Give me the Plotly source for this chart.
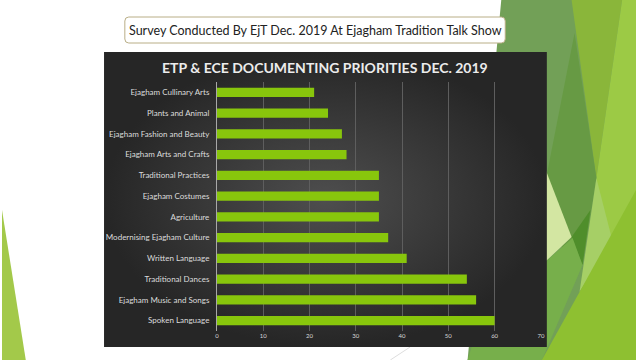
import plotly.graph_objects as go

# ---- data (top to bottom as shown) ----
categories = [
    "Ejagham Cullinary Arts",
    "Plants and Animal",
    "Ejagham Fashion and Beauty",
    "Ejagham Arts and Crafts",
    "Traditional Practices",
    "Ejagham Costumes",
    "Agriculture",
    "Modernising Ejagham Culture",
    "Written Language",
    "Traditional Dances",
    "Ejagham Music and Songs",
    "Spoken Language",
]
values = [21, 24, 27, 28, 35, 35, 35, 37, 41, 54, 56, 60]
x_ticks = [0, 10, 20, 30, 40, 50, 60, 70]

W, H = 640, 360
fig = go.Figure()

# ---- decorative background (pixel coordinates on a hidden full-page axis) ----
polys = [
    ("#72A057", [(504, 0), (640, 0), (640, 360), (470, 360)]),
    ("#8AB63A", [(575, 0), (626, 0), (600, 178)]),
    ("#9CCA45", [(626, 0), (640, 0), (640, 360), (595, 262), (600, 178)]),
    ("#679A44", [(578, 33), (600, 178), (586, 265), (540, 225)]),
    ("#A6CF66", [(600, 178), (616, 240), (583, 292)]),
    ("#D3E6A2", [(545, 160), (575, 237), (545, 265)]),
    ("#4F8E2B", [(575, 237), (594, 210), (586, 265)]),
    ("#77AF4B", [(545, 265), (576, 238), (586, 265), (545, 360), (470, 360), (478, 335)]),
    ("#8EC031", [(545, 360), (640, 190), (640, 360)]),
    ("#A3C94A", [(0, 210), (24, 360), (0, 360)]),
]
for col, pts in polys:
    xs = [p[0] for p in pts] + [pts[0][0]]
    ys = [p[1] for p in pts] + [pts[0][1]]
    fig.add_trace(go.Scatter(x=xs, y=ys, mode="lines", fill="toself",
                             fillcolor=col, line=dict(width=0), hoverinfo="skip",
                             showlegend=False, xaxis="x", yaxis="y"))

# faint thin line in lower middle
fig.add_trace(go.Scatter(x=[392, 412], y=[360, 347], mode="lines",
                         line=dict(color="#DDDDDD", width=1), hoverinfo="skip",
                         showlegend=False, xaxis="x", yaxis="y"))

# dark chart area with radial gradient
fig.add_trace(go.Scatter(x=[103, 550, 550, 103, 103], y=[52, 52, 347, 347, 52],
                         mode="lines", fill="toself", line=dict(width=0),
                         fillgradient=dict(type="radial",
                                           colorscale=[[0, "#4E4E4E"], [1, "#262626"]]),
                         hoverinfo="skip", showlegend=False, xaxis="x", yaxis="y"))

# ---- bars ----
fig.add_trace(go.Bar(x=values, y=categories, orientation="h",
                     marker=dict(color="#88C60C", line=dict(width=0)),
                     width=0.44, xaxis="x2", yaxis="y2", showlegend=False))

fig.update_layout(
    width=W, height=H,
    margin=dict(l=0, r=0, t=0, b=0),
    paper_bgcolor="white",
    plot_bgcolor="rgba(0,0,0,0)",
    xaxis=dict(domain=[0, 1], range=[0, W], visible=False, fixedrange=True),
    yaxis=dict(domain=[0, 1], range=[H, 0], visible=False, fixedrange=True),
    xaxis2=dict(domain=[217 / W, 544 / W], anchor="y2", range=[0, 70],
                tickvals=x_ticks, showgrid=True, gridcolor="#5E5E5E", gridwidth=1,
                zeroline=False, showline=False, ticks="",
                tickfont=dict(family="Lato", size=6, color="#D8D8D8")),
    yaxis2=dict(domain=[(H - 331) / H, (H - 82) / H], anchor="x2",
                categoryorder="array", categoryarray=categories,
                autorange="reversed", showgrid=False, zeroline=False,
                showline=True, linecolor="#A8A8A8", linewidth=1, ticks="",
                ticklabelstandoff=5,
                tickfont=dict(family="Lato", size=8, color="#DCDCDC")),
    font=dict(family="Lato"),
)

# chart title
fig.add_annotation(x=(326) / W, y=(H - 67) / H, xref="paper", yref="paper",
                   text="<b>ETP &amp; ECE DOCUMENTING PRIORITIES DEC. 2019</b>",
                   showarrow=False, xanchor="center", yanchor="middle",
                   font=dict(family="Lato", size=14, color="#ECECEC"))

# slide title box (rounded)
x0, x1, y0, y1, r = 124, 508, 17, 43, 4
def px(x): return x / W
def py(y): return (H - y) / H
path = (f"M {px(x0 + r)} {py(y0)} L {px(x1 - r)} {py(y0)} "
        f"Q {px(x1)} {py(y0)} {px(x1)} {py(y0 + r)} L {px(x1)} {py(y1 - r)} "
        f"Q {px(x1)} {py(y1)} {px(x1 - r)} {py(y1)} L {px(x0 + r)} {py(y1)} "
        f"Q {px(x0)} {py(y1)} {px(x0)} {py(y1 - r)} L {px(x0)} {py(y0 + r)} "
        f"Q {px(x0)} {py(y0)} {px(x0 + r)} {py(y0)} Z")
fig.add_shape(type="path", path=path, xref="paper", yref="paper",
              fillcolor="white", line=dict(color="#B9AE86", width=1), layer="above")
fig.add_annotation(x=px((x0 + x1) / 2), y=py(30), xref="paper", yref="paper",
                   text="Survey Conducted By EjT Dec. 2019 At Ejagham Tradition Talk Show",
                   showarrow=False, xanchor="center", yanchor="middle",
                   font=dict(family="Lato", size=12.5, color="#222222"))

fig.write_html("out.html", config={"displayModeBar": False},
               post_script="document.body.style.margin='0';")
